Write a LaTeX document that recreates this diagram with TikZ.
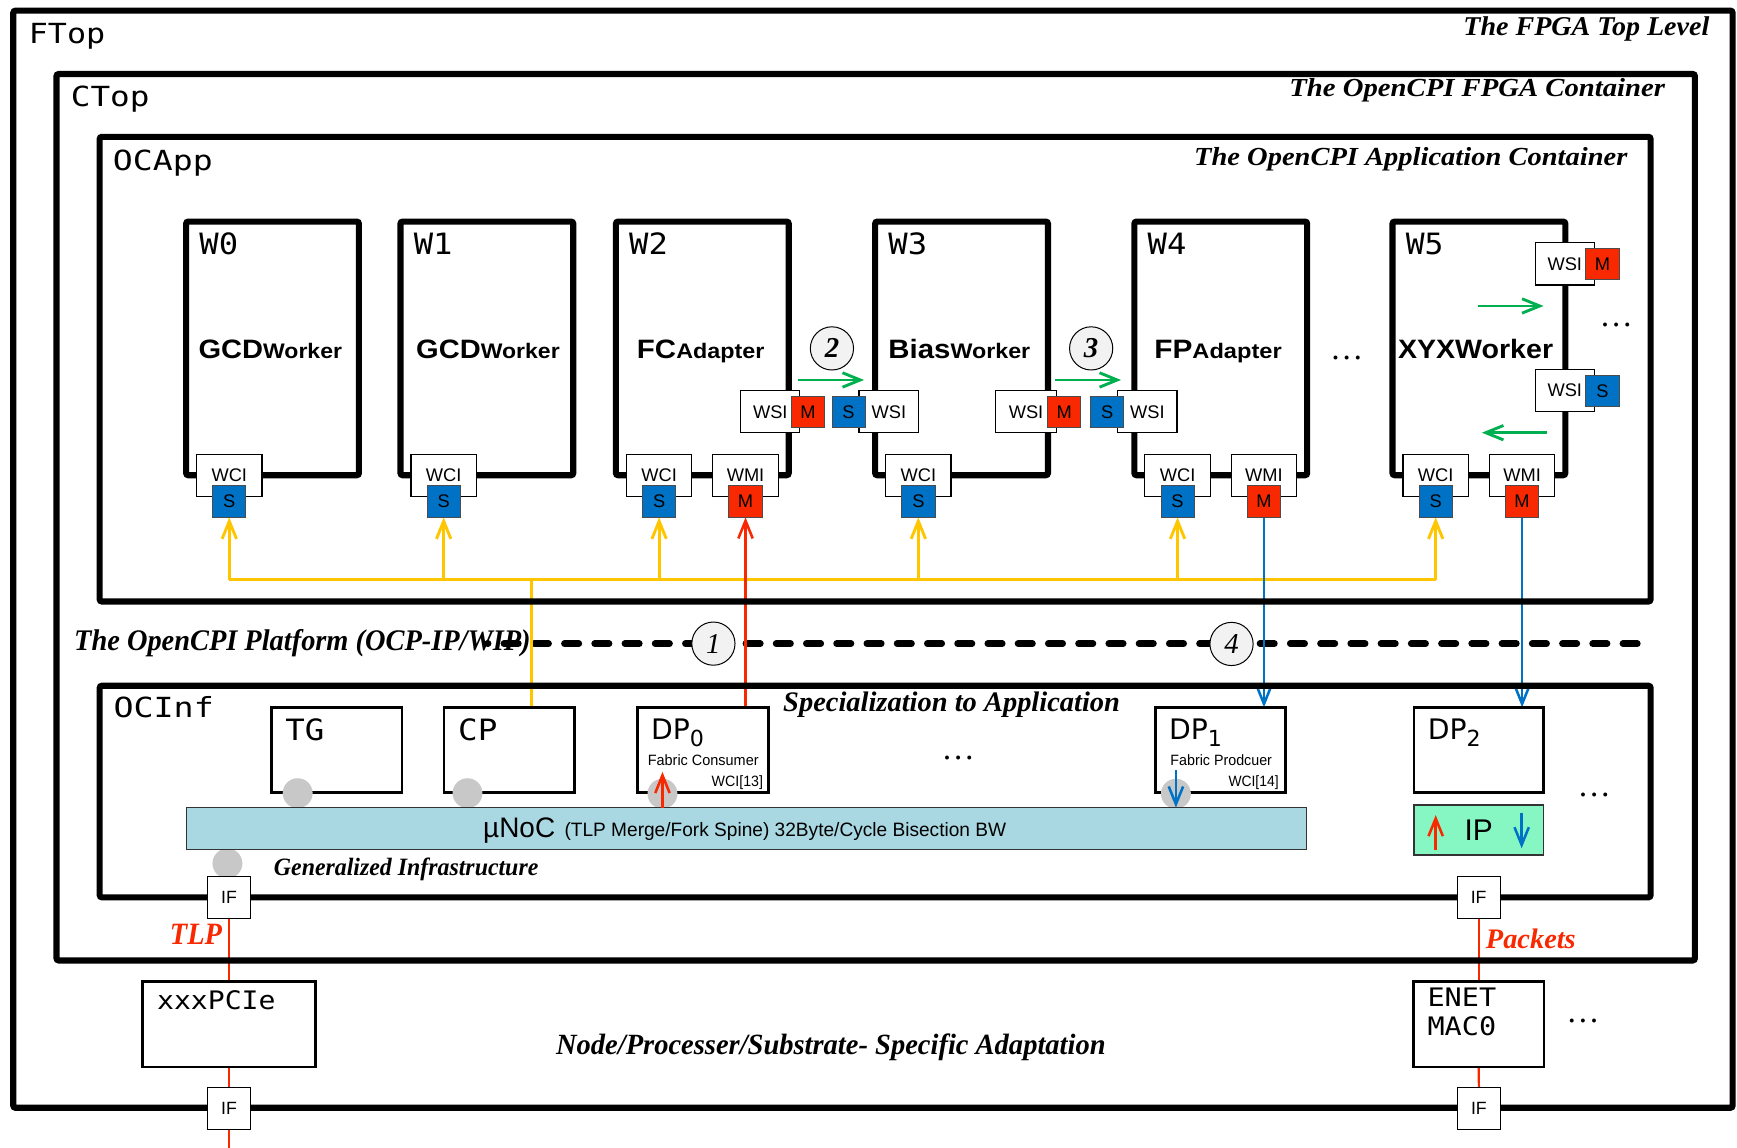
\documentclass[tikz,border=0pt]{standalone}
\usepackage{fontspec}
\usepackage{graphicx}
\setmainfont{Liberation Serif}
\newfontfamily\arialf{Liberation Sans}
\newfontfamily\monof{DejaVu Sans Mono}
\newfontfamily\dvsf{DejaVu Sans}
\usetikzlibrary{arrows.meta}
\pgfdeclarelayer{bgfill}
\pgfdeclarelayer{lines}
\pgfsetlayers{bgfill,lines,main}
\definecolor{sblue}{RGB}{0,114,198}
\definecolor{mred}{RGB}{248,40,0}
\definecolor{ygold}{RGB}{255,198,0}
\definecolor{ggreen}{RGB}{0,176,80}
\definecolor{lblue}{RGB}{170,216,226}
\definecolor{ipgreen}{RGB}{134,247,194}
\definecolor{dotgray}{RGB}{200,200,200}
\definecolor{numfill}{RGB}{242,242,242}
\newcommand\fw[2]{\resizebox{#1pt}{\height}{#2}}
\newcommand\fs[1]{\fontsize{#1}{#1}\selectfont}
\newcommand\bx[7]{\node[#1,anchor=north west,minimum width={((#4)-(#2))*1pt},minimum height={((#5)-(#3))*1pt}] (#6) at (#2,#3) {#7};}
\tikzset{
 heavy/.style={draw,line width=5.5pt,rounded corners=2pt,inner sep=0pt,outer sep=0pt},
 portbox/.style={draw=black,line width=1pt,fill=white,inner sep=0pt,outer sep=0pt,font=\arialf\fs{16.5}},
 sqbox/.style={draw=black!70,line width=0.8pt,inner sep=0pt,outer sep=0pt,minimum width=30pt,minimum height=28.5pt,font=\arialf\fs{16.5}},
 sbx/.style={sqbox,fill=sblue},
 mbx/.style={sqbox,fill=mred},
 ibox/.style={draw,line width=2.5pt,fill=white,inner sep=0pt,outer sep=0pt},
 barbox/.style={draw=black!80,line width=1.2pt,fill=lblue,inner sep=0pt,outer sep=0pt},
 ipbox/.style={draw=black!80,line width=1.2pt,fill=ipgreen,inner sep=0pt,outer sep=0pt,font=\arialf\fs{27}},
 ifbox/.style={draw=black,line width=1pt,fill=white,inner sep=0pt,outer sep=0pt,minimum width=38.6pt,minimum height=38.2pt,font=\arialf\fs{16}},
 numcirc/.style={circle,draw,line width=0.9pt,fill=numfill,minimum size=39pt,inner sep=0pt,font=\fs{26}\itshape},
 graydot/.style={circle,fill=dotgray,minimum size=27pt,inner sep=0pt},
 txt/.style={inner sep=0pt,outer sep=0pt},
 ellip/.style={inner sep=0pt,outer sep=0pt,font=\fs{30}},
 ybus/.style={draw=ygold,line width=2.6pt},
 rline/.style={draw=mred,line width=2.3pt},
 bline/.style={draw=sblue,line width=2.3pt},
 gline/.style={draw=ggreen,line width=2.6pt},
 tlpline/.style={draw=mred,line width=2pt},
 dashline/.style={draw,line width=6pt,line cap=round,dash pattern=on 13pt off 14.3pt},
}
\begin{document}
\begin{tikzpicture}[x=1pt,y=-1pt,>={Straight Barb[length=16pt,width=13pt]}]
\begin{pgfonlayer}{bgfill}
\fill[white] (0,0) rectangle (1568,1036);
\end{pgfonlayer}
\useasboundingbox (0,0) rectangle (1568,1036);

% containers
\bx{heavy}{12}{9.6}{1564}{1000}{ftop}{}
\bx{heavy}{51}{66.8}{1530}{867}{ctop}{}
\bx{heavy}{90}{123.5}{1490}{543}{ocapp}{}
\bx{heavy}{90}{619}{1490}{810}{ocinf}{}

\node[txt,anchor=base west] (lftop) at (26,39) {\fw{69}{\monof\fs{25}FTop}};
\node[txt,anchor=base west] (lctop) at (64,95.7) {\fw{71}{\monof\fs{25}CTop}};
\node[txt,anchor=base west] (locapp) at (102,154) {\fw{90}{\monof\fs{25}OCApp}};
\node[txt,anchor=base west] (locinf) at (102.5,647.5) {\fw{90.5}{\monof\fs{25}OCInf}};
\node[txt,anchor=base east] (tftop) at (1543,31.6) {\fw{222}{\fs{24.5}\bfseries\itshape The FPGA Top Level}};
\node[txt,anchor=base east] (tctop) at (1503,86.7) {\fw{339}{\fs{23.5}\bfseries\itshape The OpenCPI FPGA Container}};
\node[txt,anchor=base east] (tocapp) at (1469,149) {\fw{391}{\fs{23.5}\bfseries\itshape The OpenCPI Application Container}};

% workers
\bx{heavy}{168}{200}{324}{429}{w0}{}
\bx{heavy}{361.5}{200}{517.5}{429}{w1}{}
\bx{heavy}{556}{200}{712}{429}{w2}{}
\bx{heavy}{790}{200}{946}{429}{w3}{}
\bx{heavy}{1024}{200}{1180}{429}{w4}{}
\bx{heavy}{1257}{200}{1413}{429}{w5}{}

\node[txt,anchor=base west] (w0l) at (180,229.3) {\fw{35}{\monof\fs{26.5}W0}};
\node[txt,anchor=base west] (w1l) at (373.5,229.3) {\fw{35}{\monof\fs{26.5}W1}};
\node[txt,anchor=base west] (w2l) at (568,229.3) {\fw{35}{\monof\fs{26.5}W2}};
\node[txt,anchor=base west] (w3l) at (802,229.3) {\fw{35}{\monof\fs{26.5}W3}};
\node[txt,anchor=base west] (w4l) at (1036,229.3) {\fw{35}{\monof\fs{26.5}W4}};
\node[txt,anchor=base west] (w5l) at (1269,229.3) {\fw{34}{\monof\fs{26.5}W5}};

\node[txt,anchor=base] (w0n) at (244,323.5) {\fw{129.5}{\arialf\bfseries\fs{24}GCD\fs{19}Worker}};
\node[txt,anchor=base] (w1n) at (440.5,323.5) {\fw{129.5}{\arialf\bfseries\fs{24}GCD\fs{19}Worker}};
\node[txt,anchor=base] (w2n) at (632.5,323.5) {\fw{115}{\arialf\bfseries\fs{24}FC\fs{19}Adapter}};
\node[txt,anchor=base] (w3n) at (866,323.5) {\fw{128}{\arialf\bfseries\fs{24}Bias\fs{19}Worker}};
\node[txt,anchor=base] (w4n) at (1099.5,323.5) {\fw{115}{\arialf\bfseries\fs{24}FP\fs{19}Adapter}};
\node[txt,anchor=base] (w5n) at (1332,323.5) {\fw{140}{\arialf\bfseries\fs{24}XYXWorker}};

% control / memory ports
\bx{portbox}{177.5}{410}{236.5}{448}{w0c}{WCI} \node[sbx] (w0s) at (207,452.75) {S};
\bx{portbox}{371}{410}{430}{448}{w1c}{WCI} \node[sbx] (w1s) at (400.5,452.75) {S};
\bx{portbox}{565.5}{410}{624.5}{448}{w2c}{WCI} \node[sbx] (w2s) at (595,452.75) {S};
\bx{portbox}{643.5}{410}{702.5}{448}{w2w}{WMI} \node[mbx] (w2m) at (673,452.75) {M};
\bx{portbox}{799.5}{410}{858.5}{448}{w3c}{WCI} \node[sbx] (w3s) at (829,452.75) {S};
\bx{portbox}{1033.5}{410}{1092.5}{448}{w4c}{WCI} \node[sbx] (w4s) at (1063,452.75) {S};
\bx{portbox}{1111.5}{410}{1170.5}{448}{w4w}{WMI} \node[mbx] (w4m) at (1141,452.75) {M};
\bx{portbox}{1266.5}{410}{1325.5}{448}{w5c}{WCI} \node[sbx] (w5s) at (1296,452.75) {S};
\bx{portbox}{1344.5}{410}{1403.5}{448}{w5w}{WMI} \node[mbx] (w5m) at (1374,452.75) {M};

% streaming ports
\bx{portbox}{668.7}{352.7}{722}{390.6}{w2o}{WSI} \node[mbx] (w2om) at (729.4,371.75) {M};
\bx{portbox}{775.4}{352.7}{829.4}{390.6}{w3i}{WSI} \node[sbx] (w3is) at (766,371.75) {S};
\bx{portbox}{899}{352.7}{953.4}{390.6}{w3o}{WSI} \node[mbx] (w3om) at (960.7,371.75) {M};
\bx{portbox}{1009}{352.7}{1062.5}{390.6}{w4i}{WSI} \node[sbx] (w4is) at (999.5,371.75) {S};
\bx{portbox}{1386}{219}{1439}{257.3}{w5a}{WSI} \node[mbx] (w5am) at (1446.6,238.4) {M};
\bx{portbox}{1386}{333.4}{1439}{371.6}{w5b}{WSI} \node[sbx] (w5bs) at (1446.6,352.8) {S};

% green data-flow arrows
\coordinate (g1a) at (720.3,343); \coordinate (g1b) at (780,343);
\coordinate (g2a) at (952.7,343); \coordinate (g2b) at (1012,343);
\coordinate (g3a) at (1334,276.2); \coordinate (g3b) at (1393.4,276.2);
\coordinate (g4a) at (1396.4,390.6); \coordinate (g4b) at (1337.7,390.6);
\draw[gline,->] (g1a) -- (g1b);
\draw[gline,->] (g2a) -- (g2b);
\draw[gline,->] (g3a) -- (g3b);
\draw[gline,->] (g4a) -- (g4b);

\node[numcirc,font=\fs{26}\bfseries\itshape] (n2) at (751,314.5) {2};
\node[numcirc,font=\fs{26}\bfseries\itshape] (n3) at (985,314.5) {3};
\node[numcirc] (n1) at (644,581) {1};
\node[numcirc] (n4) at (1111.7,581.3) {4};

\node[ellip] (e1) at (1215.8,323.5) {…};
\node[ellip] (e2) at (1459,293) {…};

% OCInf contents
\bx{ibox}{245.2}{638.5}{362.9}{715.5}{tg}{}
\bx{ibox}{400.8}{638.5}{518.4}{715.5}{cp}{}
\bx{ibox}{575.8}{638.5}{693.5}{715.5}{dp0}{}
\bx{ibox}{1043.3}{638.5}{1160.2}{715.5}{dp1}{}
\bx{ibox}{1276.4}{638.5}{1393.2}{715.5}{dp2}{}

\node[txt,anchor=base west] (tgl) at (257.6,668) {\fw{35.2}{\monof\fs{26.5}TG}};
\node[txt,anchor=base west] (cpl) at (413.6,668) {\fw{35.4}{\monof\fs{26.5}CP}};
\node[txt,anchor=base west] (dp0l) at (587.7,667.4) {\dvsf\fs{25.5}DP\raisebox{-6.6pt}{\fs{20}0}};
\node[txt,anchor=base west] (dp1l) at (1055.3,667.4) {\dvsf\fs{25.5}DP\raisebox{-6.6pt}{\fs{20}1}};
\node[txt,anchor=base west] (dp2l) at (1289,667.4) {\dvsf\fs{25.5}DP\raisebox{-6.6pt}{\fs{20}2}};
\node[txt,anchor=base] (fcl) at (634.8,690.6) {\fw{100}{\arialf\fs{13.5}Fabric Consumer}};
\node[txt,anchor=base east] (wc13) at (688.8,710) {\fw{46.4}{\arialf\fs{13.5}WCI[13]}};
\node[txt,anchor=base] (fpl) at (1102.4,690.6) {\fw{91.6}{\arialf\fs{13.5}Fabric Prodcuer}};
\node[txt,anchor=base east] (wc14) at (1154.2,710) {\fw{45.2}{\arialf\fs{13.5}WCI[14]}};

\node[graydot] (c1) at (268.7,716) {};
\node[graydot] (c2) at (422,716) {};
\node[graydot] (c3) at (598,716.5) {};
\node[graydot] (c4) at (1061.5,716.5) {};
\node[graydot] (c5) at (205.3,779.4) {};

\bx{barbox}{168.2}{729}{1179.5}{766.7}{noc}{}
\node[txt,anchor=base west] (noca) at (436.2,755.8) {\fw{65}{\arialf\fs{25.5}µNoC}};
\node[txt,anchor=base west] (nocb) at (509.6,755.3) {\fw{398.7}{\arialf\fs{17.5}(TLP Merge/Fork Spine) 32Byte/Cycle Bisection BW}};
\bx{ipbox}{1276.4}{726.7}{1393.2}{771.8}{ip}{IP}

\draw[rline,->] (c3.center |- noc.north) -- ++(0,-32.2);
\draw[bline,->] ([yshift=21.5pt]c4.center) -- (c4.center |- noc.north);
\draw[rline,->] ([xshift=19.6pt,yshift=-18pt]ip.west) -- ([xshift=19.6pt,yshift=13.5pt]ip.west);
\draw[bline,->] ([xshift=-19.6pt,yshift=15.6pt]ip.east) -- ([xshift=-19.6pt,yshift=-16.5pt]ip.east);

\node[ellip] (e3) at (865,684) {…};
\node[ellip] (e4) at (1439,717.4) {…};

\node[txt,anchor=base west] (tspec) at (707,642.4) {\fw{304}{\fs{25.5}\bfseries\itshape Specialization to Application}};
\node[txt,anchor=base west] (tgen) at (247.3,790) {\fw{238.7}{\fs{22.5}\bfseries\itshape Generalized Infrastructure}};

% interfaces and adaptation
\node[ifbox] (if1) at (206.8,810) {IF};
\node[ifbox] (if2) at (206.8,1000.5) {IF};
\node[ifbox] (if3) at (1334.8,810.3) {IF};
\node[ifbox] (if4) at (1335,1000.5) {IF};
\bx{ibox}{128.5}{886.2}{284.6}{963.2}{pcie}{}
\bx{ibox}{1276.1}{886.2}{1393.8}{963.2}{enet}{}
\node[txt,anchor=base west] (pciel) at (141.8,911.7) {\fw{107}{\monof\fs{23}xxxPCIe}};
\node[txt,anchor=base west] (enetl) at (1288.6,908.7) {\fw{62}{\monof\fs{23}ENET}};
\node[txt,anchor=base west] (macl) at (1288.6,934.3) {\fw{62}{\monof\fs{23}MAC0}};
\node[ellip] (e5) at (1429,922) {…};
\node[txt,anchor=base west,text=mred] (ttlp) at (153.4,853) {\fw{47}{\fs{28}\bfseries\itshape TLP}};
\node[txt,anchor=base west,text=mred] (tpkt) at (1341.4,856) {\fw{81}{\fs{25.5}\bfseries\itshape Packets}};
\node[txt,anchor=base west] (tnode) at (502,952.3) {\fw{496}{\fs{26.5}\bfseries\itshape Node/Processer/Substrate- Specific Adaptation}};

% connectors (under the borders)
\begin{pgfonlayer}{lines}
\node[txt,anchor=base west] (tplat) at (67,587) {\fw{412}{\fs{27}\bfseries\itshape The OpenCPI Platform (OCP-IP/WIP)}};
\coordinate (dashR) at (1478,581);
\coordinate (dashL) at (440,581);
\draw[dashline] (dashR) -- (dashL);
\coordinate (busy) at (0,523.5);
\coordinate (cpj) at (480,523.5);
\draw[ybus] (w0s.south |- busy) -- (w5s.south |- busy);
\foreach \p in {w0s,w1s,w2s,w3s,w4s,w5s}{\draw[ybus,->] (\p.south |- busy) -- (\p.south);}
\draw[ybus] (cpj) -- (cpj |- cp.north);
\draw[rline,->] (w2m.south |- dp0.north) -- (w2m.south);
\draw[bline,->] (w4m.south) -- (w4m.south |- dp1.north);
\draw[bline,->] (w5m.south) -- (w5m.south |- dp2.north);
\coordinate (botL) at (206.8,1036);
\draw[tlpline] (if1.south) -- (if1.south |- pcie.north);
\draw[tlpline] (if1.south |- pcie.south) -- (if2.north);
\draw[tlpline] (if2.south) -- (botL);
\draw[tlpline] (if3.south) -- (if3.south |- enet.north);
\draw[tlpline] (if3.south |- enet.south) -- (if4.north);
\end{pgfonlayer}
\end{tikzpicture}
\end{document}
